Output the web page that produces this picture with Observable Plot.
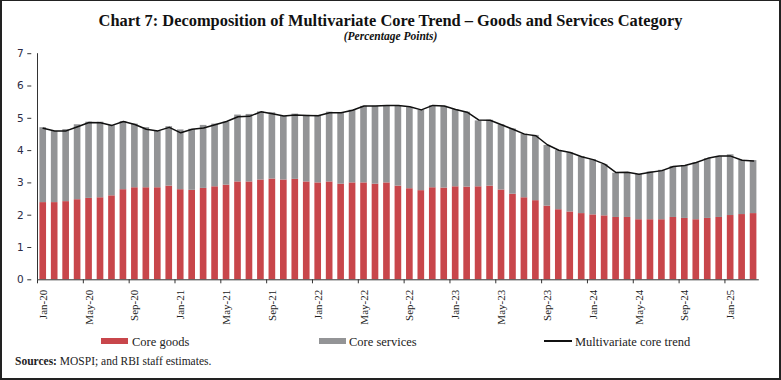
<!DOCTYPE html>
<html>
<head>
<meta charset="utf-8">
<script src="https://cdn.jsdelivr.net/npm/d3@7"></script>
<script src="https://cdn.jsdelivr.net/npm/@observablehq/plot@0.6"></script>
<style>
  html, body { margin: 0; padding: 0; background: #fff; }
  #frame { position: relative; width: 781px; height: 380px; box-sizing: border-box; border: 2px solid #222; border-top-width: 1.5px; overflow: hidden; background: #fff; }
  #title { position: absolute; left: 0; width: 777px; top: 10px; text-align: center; font-family: "Liberation Serif", "DejaVu Serif", serif; font-weight: bold; font-size: 16.4px; color: #111; white-space: nowrap; }
  #subtitle { position: absolute; left: 0; width: 777px; top: 28.5px; text-align: center; font-family: "Liberation Serif", serif; font-style: italic; font-weight: bold; font-size: 11.5px; color: #111; }
  #chart { position: absolute; left: -2px; top: 38.5px; width: 781px; height: 290px; }
  #chart svg { max-width: none !important; width: 781px; height: 290px; }
  .leg { position: absolute; top: 334px; font-family: "Liberation Serif", serif; font-size: 12.5px; color: #222; white-space: nowrap; }
  .sw { position: absolute; }
  #sources { position: absolute; left: 13px; top: 354px; font-family: "Liberation Serif", serif; font-size: 11.5px; color: #222; }
</style>
</head>
<body>
<div id="frame">
  <div id="title">Chart 7: Decomposition of Multivariate Core Trend – Goods and Services Category</div>
  <div id="subtitle">(Percentage Points)</div>
  <div id="chart"></div>
  <div class="sw" style="left:99px;top:336.5px;width:27px;height:6px;background:#c8464b"></div>
  <div class="leg" style="left:130px">Core goods</div>
  <div class="sw" style="left:317px;top:336.5px;width:27px;height:6px;background:#939496"></div>
  <div class="leg" style="left:347px">Core services</div>
  <div class="sw" style="left:542px;top:339px;width:28px;height:1.6px;background:#111"></div>
  <div class="leg" style="left:573px">Multivariate core trend</div>
  <div id="sources"><b>Sources:</b> MOSPI; and RBI staff estimates.</div>
</div>
<script>
const months = [
  "Jan-20","Feb-20","Mar-20","Apr-20","May-20","Jun-20","Jul-20","Aug-20","Sep-20","Oct-20","Nov-20","Dec-20",
  "Jan-21","Feb-21","Mar-21","Apr-21","May-21","Jun-21","Jul-21","Aug-21","Sep-21","Oct-21","Nov-21","Dec-21",
  "Jan-22","Feb-22","Mar-22","Apr-22","May-22","Jun-22","Jul-22","Aug-22","Sep-22","Oct-22","Nov-22","Dec-22",
  "Jan-23","Feb-23","Mar-23","Apr-23","May-23","Jun-23","Jul-23","Aug-23","Sep-23","Oct-23","Nov-23","Dec-23",
  "Jan-24","Feb-24","Mar-24","Apr-24","May-24","Jun-24","Jul-24","Aug-24","Sep-24","Oct-24","Nov-24","Dec-24",
  "Jan-25","Feb-25","Mar-25"
];
const tickLabels = ["Jan-20","May-20","Sep-20","Jan-21","May-21","Sep-21","Jan-22","May-22","Sep-22",
  "Jan-23","May-23","Sep-23","Jan-24","May-24","Sep-24","Jan-25"];
const yTicks = [0,1,2,3,4,5,6,7];

const coreGoods = [
  2.39,2.39,2.42,2.48,2.52,2.54,2.60,2.79,2.85,2.85,2.85,2.90,
  2.79,2.77,2.83,2.88,2.93,3.03,3.03,3.09,3.12,3.09,3.11,3.03,
  3.00,3.03,2.96,3.00,3.00,2.96,3.00,2.90,2.82,2.76,2.85,2.84,
  2.88,2.87,2.88,2.90,2.78,2.65,2.54,2.45,2.28,2.17,2.10,2.05,
  2.01,1.98,1.93,1.93,1.86,1.86,1.86,1.93,1.90,1.86,1.90,1.93,
  1.99,2.02,2.05
];
const coreServices = [
  2.32,2.20,2.23,2.32,2.36,2.34,2.18,2.11,1.97,1.86,1.76,1.84,
  1.85,1.89,1.95,1.94,1.95,2.07,2.09,2.11,2.05,1.97,2.02,2.06,
  2.09,2.16,2.21,2.25,2.37,2.41,2.39,2.49,2.51,2.49,2.54,2.53,
  2.39,2.32,2.04,2.04,2.02,2.02,1.97,2.02,1.88,1.83,1.83,1.76,
  1.71,1.59,1.37,1.39,1.40,1.48,1.53,1.58,1.63,1.76,1.85,1.88,
  1.88,1.68,1.64
];
const coreTrend = [
  4.69,4.61,4.61,4.74,4.87,4.86,4.78,4.90,4.81,4.66,4.61,4.72,
  4.55,4.66,4.70,4.80,4.90,5.05,5.06,5.20,5.14,5.07,5.10,5.09,
  5.08,5.17,5.17,5.25,5.38,5.38,5.40,5.40,5.36,5.26,5.40,5.38,
  5.27,5.19,4.95,4.94,4.80,4.66,4.51,4.46,4.18,4.01,3.94,3.81,
  3.72,3.58,3.32,3.33,3.27,3.33,3.38,3.51,3.54,3.63,3.76,3.83,
  3.83,3.70,3.68
];
const seriesNames = ["Core goods","Core services"];
const seriesColors = ["#c8464b","#939496"];

const barRows = [];
months.forEach((m, i) => {
  barRows.push({month: m, series: seriesNames[0], value: coreGoods[i]});
  barRows.push({month: m, series: seriesNames[1], value: coreServices[i]});
});
const lineRows = months.map((m, i) => ({month: m, value: coreTrend[i]}));

const W = 781, mL = 37, mR = 22.2;
const step = (W - mL - mR) / months.length;

const chart = Plot.plot({
  width: W,
  height: 290,
  marginTop: 13.2,
  marginBottom: 50.7,
  marginLeft: mL,
  marginRight: mR,
  style: {background: "transparent", overflow: "visible"},
  x: {type: "band", domain: months, paddingInner: 0.42, paddingOuter: 0.21, round: false, axis: null, label: null},
  y: {domain: [0, 7], axis: null, label: null},
  color: {domain: seriesNames, range: seriesColors},
  marks: [
    Plot.barY(barRows, {x: "month", y: "value", fill: "series", order: seriesNames}),
    Plot.lineY(lineRows, {x: "month", y: "value", stroke: "#111", strokeWidth: 1.5}),
    Plot.ruleY([0], {stroke: "#333", strokeWidth: 1}),
    Plot.ruleX([months[0]], {y1: 0, y2: 7, dx: -step / 2, stroke: "#333", strokeWidth: 1}),
    Plot.axisY({ticks: yTicks, tickSize: 4, tickPadding: 4, dx: -step / 2, stroke: "#333", label: null,
      fontFamily: "DejaVu Sans, Verdana, sans-serif", fontSize: 10.5, color: "#2b2b45", tickFormat: d => String(d)}),
    Plot.axisX({ticks: tickLabels, tickSize: 4, tickFormat: () => "", dx: -step / 2, stroke: "#333", label: null}),
    Plot.axisX({ticks: tickLabels, tickSize: 0, tickPadding: 10, tickRotate: -90, label: null,
      fontFamily: "Liberation Serif, serif", fontSize: 11, color: "#222"})
  ]
});
document.getElementById("chart").appendChild(chart);
</script>
</body>
</html>
